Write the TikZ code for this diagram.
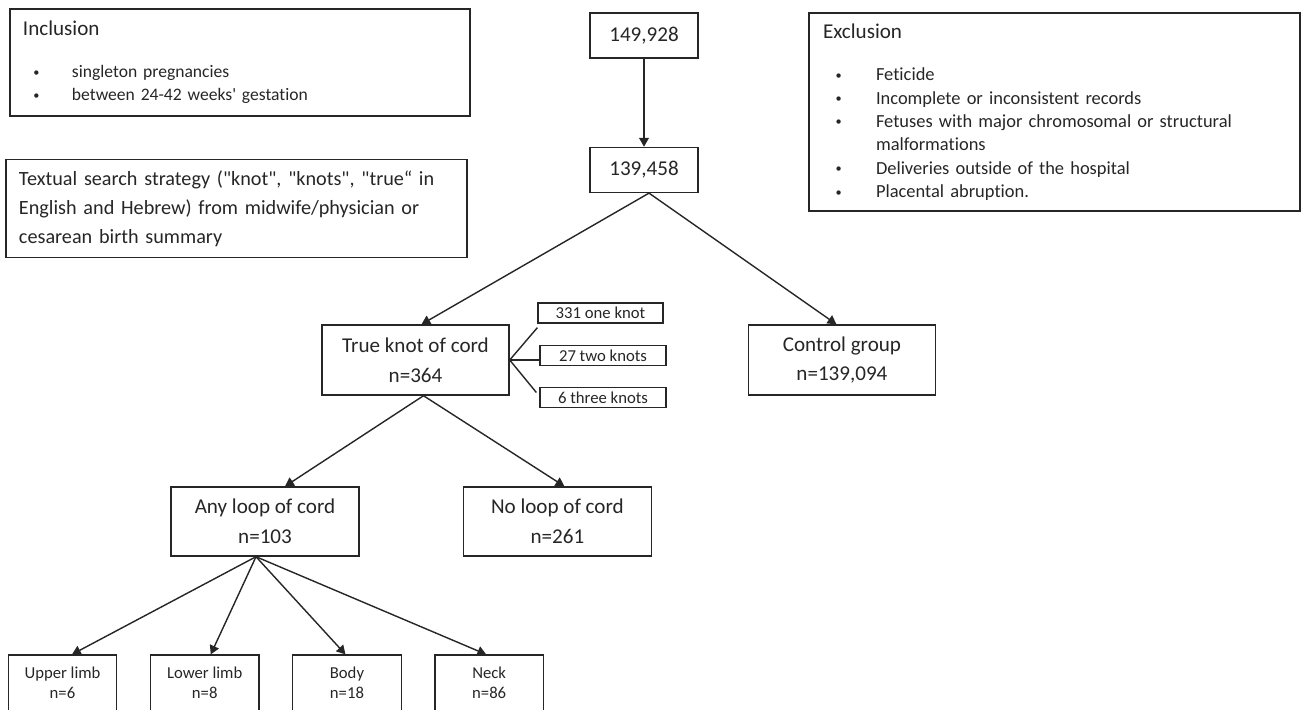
\documentclass[tikz,border=0pt]{standalone}
\usepackage{fontspec}
\setmainfont{Carlito}[Ligatures = {TeX, NoCommon}]
\usetikzlibrary{positioning}
\usetikzlibrary{arrows.meta}
\usetikzlibrary{calc}

\tikzset{
	box/.style = {draw = black!85, line width = 0.8pt, rectangle, align = center, text = black!85, font = \fontsize{12}{17}\selectfont, minimum height = 14mm, inner sep = 0pt},
	numbox/.style = {box, minimum width = 21.6mm, minimum height = 9mm},
	knotbox/.style = {draw = black!85, line width = 0.7pt, rectangle, text = black!85, font = \fontsize{9.5}{11}\selectfont, minimum width = 25mm, minimum height = 4mm, inner sep = 0pt},
	sitebox/.style = {draw = black!85, line width = 0.7pt, rectangle, align = center, text = black!85, font = \fontsize{9.5}{11.5}\selectfont, minimum width = 21.7mm, minimum height = 11.2mm, inner sep = 0pt},
	listbox/.style = {draw = black!85, line width = 0.8pt, rectangle, align = left, text = black!85, inner ysep = 0pt},
	link/.style = {draw = black!85, line width = 0.8pt},
	arrow/.style = {link, -{Triangle[length = 5pt, width = 5.5pt]}}
}
\newcommand{\listhead}[1]{{\fontsize{12}{14}\selectfont #1}}
\newcommand{\smallbullet}{\raisebox{0.9pt}{\fontsize{7}{7}\selectfont\textbullet}}
\newcommand{\inclitem}[1]{\makebox[9.8mm][l]{\hspace{2.1mm}\smallbullet}#1}
\newcommand{\exclitem}[1]{\makebox[10.6mm][l]{\hspace{2.5mm}\smallbullet}#1}

\begin{document}
\begin{tikzpicture}[x = 0.2mm, y = -0.2mm]
		\clip (0,0) rectangle (1302,709);
		% criteria boxes
		\node[listbox, font = \fontsize{10}{13}\selectfont, inner xsep = 2.6mm, text width = 86.8mm, minimum height = 21.4mm] at (240,62.5) (incl) {\listhead{Inclusion}\\[11pt]
			\inclitem{singleton pregnancies}\\
			\inclitem{between 24-42 weeks\textquotesingle\ gestation}};
		\node[listbox, font = \fontsize{10.5}{13.3}\selectfont, inner xsep = 2.8mm, text width = 92.6mm, minimum height = 39.6mm] at (1054.5,112) (excl) {\listhead{Exclusion}\\[11pt]
			\exclitem{Feticide}\\
			\exclitem{Incomplete or inconsistent records}\\
			\exclitem{Fetuses with major chromosomal or structural}\\
			\hspace*{10.6mm}malformations\\
			\exclitem{Deliveries outside of the hospital}\\
			\exclitem{Placental abruption.}};
		\node[listbox, font = \fontsize{11.5}{16.5}\selectfont, inner xsep = 2.6mm, text width = 87mm, minimum height = 19.6mm] at (236.5,208.5) (search) {Textual search strategy (\textquotedbl knot\textquotedbl, \textquotedbl knots\textquotedbl, \textquotedbl true“ in\\
			English and Hebrew) from midwife/physician or\\
			cesarean birth summary};
		% main flow
		\node[numbox] at (644,35.5) (total) {149,928};
		\node[numbox, below = 17.6mm of total] (eligible) {139,458};
		\node[box, minimum width = 37.4mm] at (415.5,360) (knot) {True knot of cord\\n=364};
		\node[box, minimum width = 37.4mm, right = 47.6mm of knot] (control) {Control group\\n=139,094};
		\node[knotbox] at (600.5,313) (k1) {331 one knot};
		\node[knotbox, minimum width = 25.2mm] at (603,355.5) (k2) {27 two knots};
		\node[knotbox, minimum width = 25.2mm] at (603,397.5) (k3) {6 three knots};
		\node[box, minimum width = 37.6mm, minimum height = 13.8mm] at (265,521.5) (anyloop) {Any loop of cord\\n=103};
		\node[box, minimum width = 37.6mm, minimum height = 13.8mm, right = 20.6mm of anyloop] (noloop) {No loop of cord\\n=261};
		\node[sitebox] at (62.5,683) (upper) {Upper limb\\n=6};
		\node[sitebox, right = 6.5mm of upper] (lower) {Lower limb\\n=8};
		\node[sitebox, right = 6.5mm of lower] (body) {Body\\n=18};
		\node[sitebox, right = 6.5mm of body] (neck) {Neck\\n=86};
		% connectors
		\draw[arrow] (total) -- (eligible);
		\draw[arrow] ([xshift = 1mm]eligible.south) -- ([xshift = 1.2mm]knot.north);
		\draw[arrow] ([xshift = 1mm]eligible.south) -- ([xshift = -1.1mm]control.north);
		\draw[link] (knot.east) -- ($(k1.south west)+(0,4)$);
		\draw[link] (knot.east) -- (knot.east -| k2.west);
		\draw[link] (knot.east) -- ($(k3.west)+(-3,-5)$);
		\draw[arrow] ([xshift = 1.6mm]knot.south) -- ([xshift = 4mm]anyloop.north);
		\draw[arrow] ([xshift = 1.6mm]knot.south) -- ([xshift = 1.4mm]noloop.north);
		\draw[arrow] ([xshift = -1.8mm]anyloop.south) -- ([xshift = 1.9mm]upper.north);
		\draw[arrow] ([xshift = -1.8mm]anyloop.south) -- ([xshift = 1.2mm]lower.north);
		\draw[arrow] ([xshift = -1.8mm]anyloop.south) -- ([xshift = -0.3mm]body.north);
		\draw[arrow] ([xshift = -1.8mm]anyloop.south) -- ([xshift = -0.6mm]neck.north);
	\end{tikzpicture}
\end{document}
